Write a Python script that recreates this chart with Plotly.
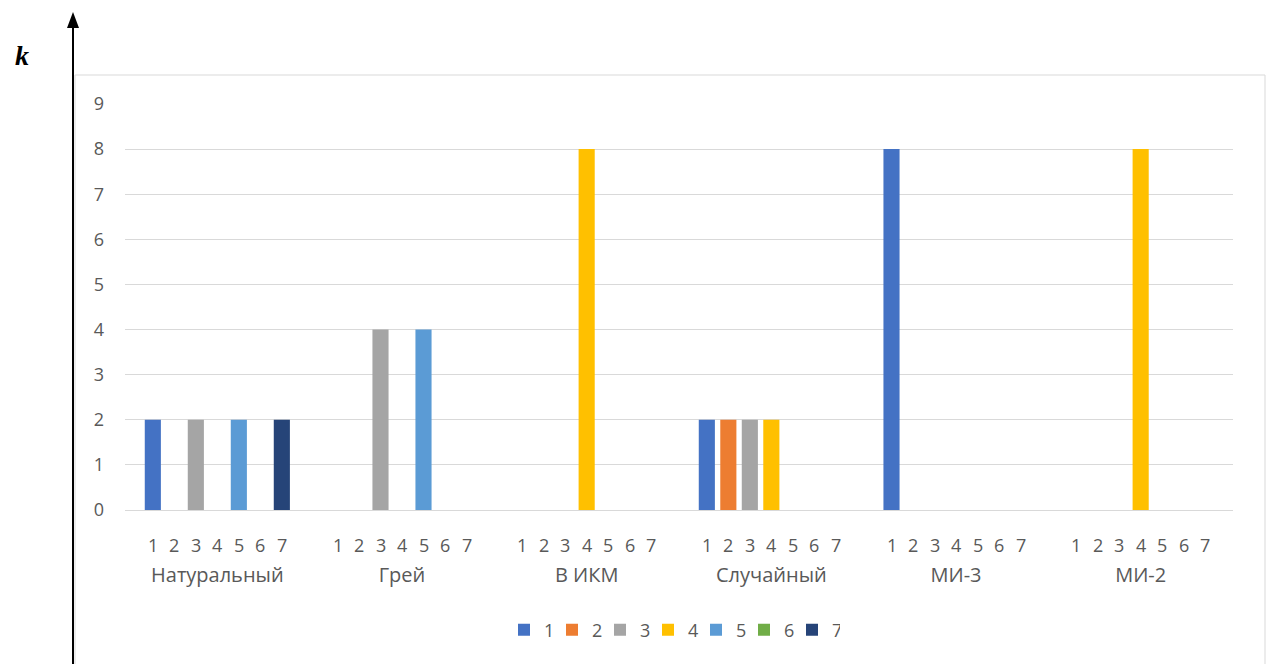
import plotly.graph_objects as go

categories = ["Натуральный", "Грей", "В ИКМ", "Случайный", "МИ-3", "МИ-2"]
series_names = ["1", "2", "3", "4", "5", "6", "7"]
colors = ["#4472C4", "#ED7D31", "#A5A5A5", "#FFC000", "#5B9BD5", "#70AD47", "#264478"]
s1 = [2, 0, 0, 2, 8, 0]
s2 = [0, 0, 0, 2, 0, 0]
s3 = [2, 4, 0, 2, 0, 0]
s4 = [0, 0, 8, 2, 0, 8]
s5 = [2, 4, 0, 0, 0, 0]
s6 = [0, 0, 0, 0, 0, 0]
s7 = [2, 0, 0, 0, 0, 0]
series_values = [s1, s2, s3, s4, s5, s6, s7]
y_ticks = list(range(0, 10))

W, H = 1270, 664
ML, MR, MT, MB = 125, 37, 104, 154
PW, PH = W - ML - MR, H - MT - MB
BARGAP = 0.185
TXT = "#595959"
FONT = "Open Sans"


def px_x(p):
    return (p - ML) / PW


def px_y(p):
    return (H - MB - p) / PH


fig = go.Figure()
for name, vals, col in zip(series_names, series_values, colors):
    fig.add_trace(go.Bar(x=categories, y=vals, name=name, marker=dict(color=col, line=dict(width=0))))

# sub-labels (series numbers) under each bar
n = len(series_names)
slot = (1 - BARGAP) / n
annotations = []
for i, _ in enumerate(categories):
    for j, nm in enumerate(series_names):
        annotations.append(dict(x=i + (j - (n - 1) / 2) * slot, y=px_y(545), xref="x", yref="paper",
                                text=nm, showarrow=False, font=dict(family=FONT, size=18, color=TXT),
                                xanchor="center", yanchor="middle"))

# "k" axis label
annotations.append(dict(x=px_x(22), y=px_y(55), xref="paper", yref="paper", text="<b><i>k</i></b>",
                        showarrow=False, font=dict(family="Liberation Serif", size=28, color="black"),
                        xanchor="center", yanchor="middle"))

shapes = [
    # chart border
    dict(type="rect", xref="paper", yref="paper", x0=px_x(75), x1=px_x(1265), y0=px_y(680), y1=px_y(75),
         line=dict(color="#D9D9D9", width=1), layer="below"),
    # arrow axis line
    dict(type="line", xref="paper", yref="paper", x0=px_x(73), x1=px_x(73), y0=px_y(670), y1=px_y(25),
         line=dict(color="black", width=2)),
    # arrow head
    dict(type="path", xref="paper", yref="paper",
         path=f"M {px_x(67)} {px_y(28)} L {px_x(79)} {px_y(28)} L {px_x(73)} {px_y(12)} Z",
         fillcolor="black", line=dict(color="black", width=0)),
]

fig.update_layout(
    width=W, height=H,
    margin=dict(l=ML, r=MR, t=MT, b=MB, autoexpand=False),
    paper_bgcolor="white", plot_bgcolor="white",
    barmode="group", bargap=BARGAP, bargroupgap=0.25,
    font=dict(family=FONT, color=TXT),
    xaxis=dict(showgrid=False, showline=False, ticks="", tickfont=dict(family=FONT, size=20, color=TXT),
               ticklabelstandoff=51),
    yaxis=dict(range=[0, 9], tickvals=y_ticks, showgrid=True, gridcolor="#D9D9D9", gridwidth=1,
               zeroline=True, zerolinecolor="#D9D9D9", zerolinewidth=1, showline=False,
               tickfont=dict(family=FONT, size=18, color=TXT), ticklabelstandoff=20),
    legend=dict(orientation="h", x=px_x(672), xanchor="center", y=px_y(630), yanchor="middle",
                font=dict(family=FONT, size=18, color=TXT), itemwidth=30, entrywidth=3,
                traceorder="normal"),
    annotations=annotations,
    shapes=shapes,
)

fig.write_html("out.html")
